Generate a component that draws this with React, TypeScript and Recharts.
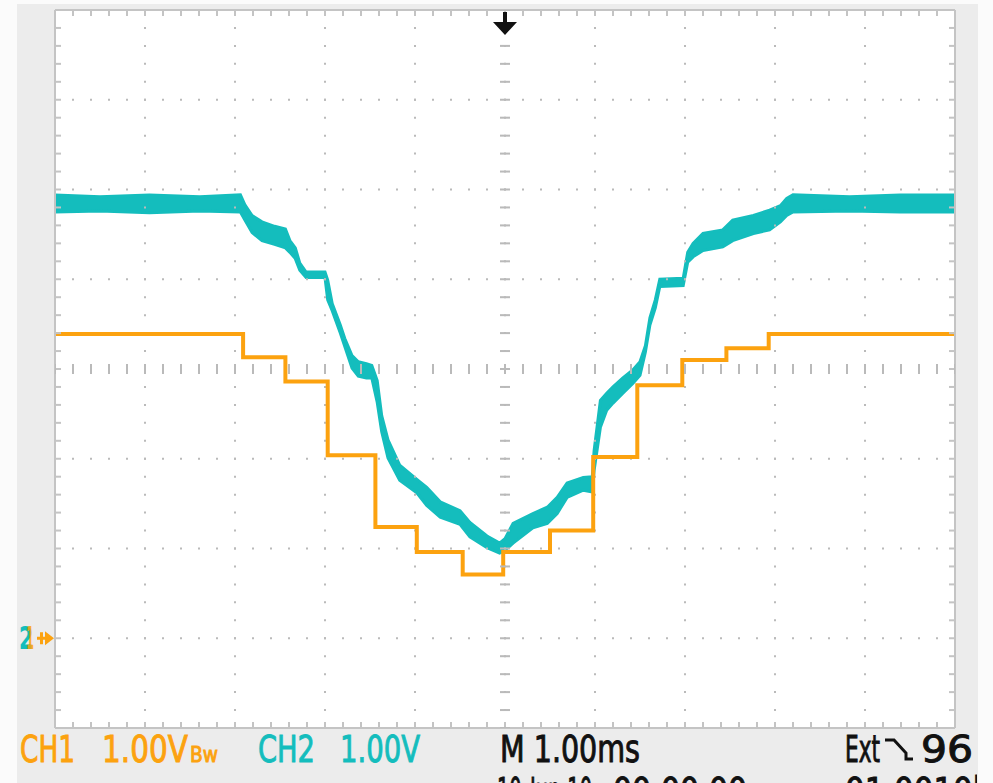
import React from 'react';
import {
  ComposedChart,
  Line,
  Area,
  XAxis,
  YAxis,
  Scatter,
  ReferenceDot,
  ReferenceLine,
} from 'recharts';

// ---- axes / graticule (time in ms, volts) ----
const TIME_DOMAIN: [number, number] = [0, 10];
const VOLT_DOMAIN: [number, number] = [-1, 7];
const MAJOR_T = [1, 2, 3, 4, 5, 6, 7, 8, 9];
const MAJOR_V = [0, 1, 2, 3, 4, 5, 6];
const MINOR_T = Array.from({ length: 51 }, (_, i) => Math.round(i * 2) / 10);
const MINOR_V = Array.from({ length: 41 }, (_, i) => Math.round(-10 + i * 2) / 10);
const CENTER_T = 5;
const CENTER_V = 3;
const TRIGGER_T = 5;
const GROUND_V = 0;

// ---- CH1 (orange, stepped) ----
const CH1_T = [0, 2.09, 2.56, 3.03, 3.56, 4.02, 4.53, 4.98, 5.5, 5.98, 6.47, 6.97, 7.46, 7.93, 10];
const CH1_V = [3.39, 3.13, 2.86, 2.04, 1.24, 0.96, 0.71, 0.96, 1.2, 2.02, 2.82, 3.1, 3.23, 3.39, 3.39];

// ---- CH2 (teal, noisy band: low / high envelope) ----
const CH2_T = [
  0, 0.5, 1.05, 1.61, 2.06, 2.11, 2.19, 2.3, 2.44, 2.56, 2.61, 2.67, 2.72, 2.79, 3.0, 3.03, 3.08,
  3.17, 3.22, 3.3, 3.37, 3.46, 3.52, 3.58, 3.63, 3.7, 3.83, 4.02, 4.13, 4.28, 4.5, 4.61, 4.8, 4.94,
  5.0, 5.09, 5.31, 5.47, 5.58, 5.69, 5.87, 5.97, 5.99, 6.06, 6.13, 6.2, 6.31, 6.42, 6.5, 6.56, 6.61,
  6.67, 6.72, 6.98, 7.03, 7.09, 7.2, 7.42, 7.53, 7.76, 7.94, 8.06, 8.13, 8.2, 8.83, 9.39, 10,
];
const CH2_LO = [
  4.75, 4.76, 4.74, 4.76, 4.75, 4.66, 4.52, 4.43, 4.39, 4.35, 4.3, 4.23, 4.1, 4.02, 4.02, 3.77, 3.65,
  3.4, 3.25, 3.01, 2.92, 2.9, 2.9, 2.63, 2.3, 2.01, 1.76, 1.62, 1.48, 1.35, 1.27, 1.13, 1.01, 0.95,
  0.98, 1.06, 1.23, 1.28, 1.39, 1.57, 1.65, 1.63, 1.87, 2.35, 2.54, 2.62, 2.73, 2.84, 2.93, 3.19, 3.49,
  3.68, 3.92, 3.93, 4.19, 4.25, 4.32, 4.36, 4.43, 4.51, 4.55, 4.64, 4.71, 4.75, 4.76, 4.75, 4.75,
];
const CH2_HI = [
  4.94, 4.92, 4.94, 4.92, 4.94, 4.83, 4.71, 4.64, 4.59, 4.56, 4.43, 4.35, 4.18, 4.08, 4.08, 3.99, 3.73,
  3.49, 3.34, 3.15, 3.08, 3.06, 3.04, 2.87, 2.48, 2.21, 1.93, 1.77, 1.68, 1.52, 1.42, 1.29, 1.14, 1.06,
  1.11, 1.28, 1.39, 1.46, 1.57, 1.73, 1.79, 1.8, 2.09, 2.65, 2.73, 2.8, 2.9, 2.99, 3.08, 3.26, 3.57,
  3.77, 4.0, 4.01, 4.3, 4.4, 4.51, 4.55, 4.66, 4.71, 4.77, 4.82, 4.9, 4.94, 4.92, 4.94, 4.94,
];

// ---- readout texts ----
const CH1_LABEL = 'CH1';
const CH1_SCALE = '1.00V';
const CH1_BW = 'Bw';
const CH2_LABEL = 'CH2';
const CH2_SCALE = '1.00V';
const TIMEBASE = 'M 1.00ms';
const TRIG_SRC = 'Ext';
const TRIG_LEVEL = '96';
const DATE_TEXT = '10-Jun-10';
const TIME_TEXT = '00:00:00';
const FREQ_TEXT = '01.0010kHz';
const CH1_MARK = '1';
const CH2_MARK = '2';

const ORANGE = '#fca20f';
const TEAL = '#14bdbd';
const GRID = '#bababa';
const BORDER = '#c4c4c4';
const FONT = "'DejaVu Sans Condensed', 'Liberation Sans Narrow', 'DejaVu Sans', sans-serif";

const ch1Data = CH1_T.map((t, i) => ({ t, v: CH1_V[i] }));
const ch2Data = CH2_T.map((t, i) => ({ t, band: [CH2_LO[i], CH2_HI[i]] }));
const crossH = MINOR_T.map((t) => ({ t, v: CENTER_V }));
const crossV = MINOR_V.map((v) => ({ t: CENTER_T, v }));

const NoLabel = () => <g />;

const VTickShape = (p: any) => (
  <rect x={p.cx - 1} y={p.cy - 5} width={2} height={10} fill={GRID} />
);
const HTickShape = (p: any) => (
  <rect x={p.cx - 5} y={p.cy - 1} width={10} height={2} fill={GRID} />
);

const TriggerShape = (p: any) => {
  const { cx, cy } = p;
  return (
    <path
      d={`M${cx - 2} ${cy + 2} H${cx + 2} V${cy + 12} H${cx + 12} L${cx} ${cy + 25} L${cx - 12} ${cy + 12} H${cx - 2} Z`}
      fill="#111"
    />
  );
};

const GroundShape = (p: any) => {
  const { cx, cy } = p;
  return (
    <g fontFamily={FONT} fontWeight="bold">
      <text x={cx - 36} y={cy + 11} fontSize={32} fill={TEAL} textLength={14} lengthAdjust="spacingAndGlyphs">{CH2_MARK}</text>
      <text x={cx - 29} y={cy + 11} fontSize={32} fill={ORANGE} textLength={8} lengthAdjust="spacingAndGlyphs" opacity={0.85}>{CH1_MARK}</text>
      <rect x={cx - 18} y={cy - 1.5} width={10} height={3} fill={ORANGE} />
      <rect x={cx - 15} y={cy - 6} width={3} height={12} fill={ORANGE} />
      <path d={`M${cx - 10} ${cy - 7} L${cx - 1} ${cy} L${cx - 10} ${cy + 7} Z`} fill={ORANGE} />
    </g>
  );
};

export default function App() {
  const axisLine = { stroke: BORDER, strokeWidth: 2 };
  const tickLine = { stroke: BORDER, strokeWidth: 2 };
  const textStyle = { strokeWidth: 0.9 };
  return (
    <div style={{ position: 'absolute', left: 0, top: 0, width: 993, height: 783, background: '#fbfbfb', overflow: 'hidden' }}>
      <div style={{ position: 'absolute', left: 17, top: 4, width: 961, height: 779, background: '#ececec' }} />
      <div style={{ position: 'absolute', left: 55, top: 10, width: 900, height: 718, background: '#ffffff' }} />
      <div style={{ position: 'absolute', left: 0, top: 0 }}>
        <ComposedChart width={993} height={783} margin={{ top: 10, left: 55, right: 38, bottom: 55 }}>
          <XAxis xAxisId="b" dataKey="t" type="number" domain={TIME_DOMAIN} allowDataOverflow orientation="bottom" mirror ticks={MINOR_T} interval={0} tick={NoLabel} tickSize={6} axisLine={axisLine} tickLine={tickLine} />
          <XAxis xAxisId="t" dataKey="t" type="number" domain={TIME_DOMAIN} allowDataOverflow orientation="top" mirror ticks={MINOR_T} interval={0} tick={NoLabel} tickSize={6} axisLine={axisLine} tickLine={tickLine} />
          <YAxis yAxisId="l" dataKey="v" type="number" domain={VOLT_DOMAIN} allowDataOverflow orientation="left" mirror ticks={MINOR_V} interval={0} tick={NoLabel} tickSize={6} axisLine={axisLine} tickLine={tickLine} />
          <YAxis yAxisId="r" dataKey="v" type="number" domain={VOLT_DOMAIN} allowDataOverflow orientation="right" mirror ticks={MINOR_V} interval={0} tick={NoLabel} tickSize={6} axisLine={axisLine} tickLine={tickLine} />
          {MAJOR_T.map((t) => (
            <ReferenceLine key={`gx${t}`} xAxisId="b" yAxisId="l" x={t} stroke={GRID} strokeWidth={2} strokeDasharray="2 15.95" strokeDashoffset={1} />
          ))}
          {MAJOR_V.map((v) => (
            <ReferenceLine key={`gy${v}`} xAxisId="b" yAxisId="l" y={v} stroke={GRID} strokeWidth={2} strokeDasharray="2 16" strokeDashoffset={1} />
          ))}
          <Scatter xAxisId="b" yAxisId="l" data={crossH} dataKey="v" shape={VTickShape} isAnimationActive={false} />
          <Scatter xAxisId="b" yAxisId="l" data={crossV} dataKey="v" shape={HTickShape} isAnimationActive={false} />
          <Line
            xAxisId="b"
            yAxisId="l"
            data={ch1Data}
            dataKey="v"
            type="stepAfter"
            stroke={ORANGE}
            strokeWidth={4}
            dot={false}
            activeDot={false}
            isAnimationActive={false}
          />
          <Area
            xAxisId="b"
            yAxisId="l"
            data={ch2Data}
            dataKey="band"
            type="linear"
            stroke={TEAL}
            strokeWidth={3}
            fill={TEAL}
            fillOpacity={1}
            dot={false}
            activeDot={false}
            isAnimationActive={false}
          />
          <ReferenceDot xAxisId="b" yAxisId="l" x={TRIGGER_T} y={VOLT_DOMAIN[1]} ifOverflow="visible" shape={TriggerShape} />
          <ReferenceDot xAxisId="b" yAxisId="l" x={TIME_DOMAIN[0]} y={GROUND_V} ifOverflow="visible" shape={GroundShape} />
        </ComposedChart>
      </div>
      <svg width={977} height={783} style={{ position: 'absolute', left: 0, top: 0, pointerEvents: 'none' }}>
        <g fontFamily={FONT} fontSize={37}>
          <text x={20} y={762} fill={ORANGE} stroke={ORANGE} style={textStyle} textLength={55} lengthAdjust="spacingAndGlyphs">{CH1_LABEL}</text>
          <text x={102} y={762} fill={ORANGE} stroke={ORANGE} style={textStyle} textLength={86} lengthAdjust="spacingAndGlyphs">{CH1_SCALE}</text>
          <text x={190} y={762} fill={ORANGE} stroke={ORANGE} style={textStyle} fontSize={22} textLength={28} lengthAdjust="spacingAndGlyphs">{CH1_BW}</text>
          <text x={258} y={762} fill={TEAL} stroke={TEAL} style={textStyle} textLength={57} lengthAdjust="spacingAndGlyphs">{CH2_LABEL}</text>
          <text x={340} y={762} fill={TEAL} stroke={TEAL} style={textStyle} textLength={80} lengthAdjust="spacingAndGlyphs">{CH2_SCALE}</text>
          <text x={500} y={762} fill="#111" stroke="#111" style={textStyle} textLength={140} lengthAdjust="spacingAndGlyphs">{TIMEBASE}</text>
          <text x={845} y={762} fill="#111" stroke="#111" style={textStyle} textLength={35} lengthAdjust="spacingAndGlyphs">{TRIG_SRC}</text>
          <path d="M885 740 H894 L906 753 V759 H913" stroke="#111" strokeWidth={3} fill="none" />
          <text x={921} y={762} fill="#111" stroke="#111" style={textStyle} textLength={52} lengthAdjust="spacingAndGlyphs">{TRIG_LEVEL}</text>
          <text x={497} y={804} fill="#111" stroke="#111" style={textStyle} textLength={95} lengthAdjust="spacingAndGlyphs">{DATE_TEXT}</text>
          <text x={613} y={804} fill="#111" stroke="#111" style={textStyle} textLength={134} lengthAdjust="spacingAndGlyphs">{TIME_TEXT}</text>
          <text x={845} y={804} fill="#111" stroke="#111" style={textStyle} textLength={185} lengthAdjust="spacingAndGlyphs">{FREQ_TEXT}</text>
        </g>
      </svg>
    </div>
  );
}
